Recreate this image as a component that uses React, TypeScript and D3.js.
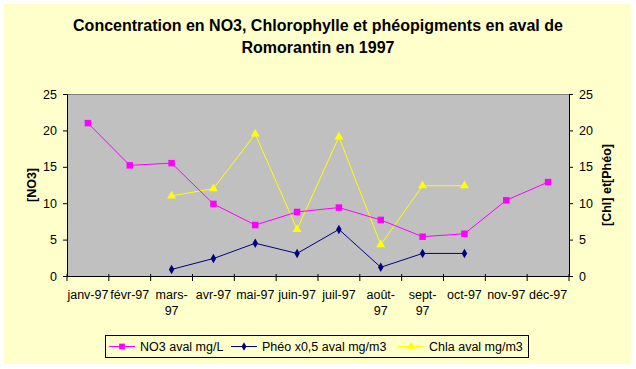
import React, { useEffect, useRef } from 'react';
import * as d3 from 'd3';

const months = ['janv-97', 'févr-97', 'mars-97', 'avr-97', 'mai-97', 'juin-97', 'juil-97', 'août-97', 'sept-97', 'oct-97', 'nov-97', 'déc-97'];
const no3 = [21, 15.2, 15.5, 9.9, 7.0, 8.8, 9.4, 7.7, 5.4, 5.8, 10.4, 12.9];
const pheo = [null, null, 0.9, 2.4, 4.5, 3.1, 6.4, 1.2, 3.1, 3.1, null, null];
const chla = [null, null, 11.0, 12.0, 19.5, 6.4, 19.1, 4.3, 12.4, 12.4, null, null];
const yTicks = [0, 5, 10, 15, 20, 25];

const series = [
  { name: 'NO3 aval mg/L', values: no3, color: '#FF00FF', symbol: d3.symbolSquare, size: 42, lx: 109 },
  { name: 'Phéo x0,5 aval mg/m3', values: pheo, color: '#000080', symbol: d3.symbolDiamond, size: 26, lx: 231 },
  { name: 'Chla aval mg/m3', values: chla, color: '#FFFF00', symbol: d3.symbolTriangle, size: 34, lx: 398 },
];

const W = 636;
const H = 369;
const margin = { top: 94, right: 67, bottom: 93, left: 67 };
const font = 'Arial, "Liberation Sans", sans-serif';
const fs = 12.5;

const App = () => {
  const ref = useRef(null);

  useEffect(() => {
    const svg = d3.select(ref.current);
    svg.selectAll('*').remove();

    const width = W - margin.left - margin.right;
    const height = H - margin.top - margin.bottom;

    svg.append('rect').attr('x', 4).attr('y', 4).attr('width', 627).attr('height', 360).attr('fill', '#FFFFCC');

    // title
    const title = svg.append('text')
      .attr('text-anchor', 'middle')
      .attr('font-family', font)
      .attr('font-size', 16)
      .attr('font-weight', 'bold');
    title.append('tspan').attr('x', W / 2).attr('y', 31).text('Concentration en NO3, Chlorophylle et phéopigments en aval de');
    title.append('tspan').attr('x', W / 2).attr('y', 53).text('Romorantin en 1997');

    const g = svg.append('g').attr('transform', `translate(${margin.left},${margin.top})`);

    const x = d3.scaleBand().domain(months).range([0, width]).padding(0);
    const y = d3.scaleLinear().domain([0, 25]).range([height, 0]);

    g.append('rect').attr('width', width).attr('height', height).attr('fill', '#C0C0C0');
    g.append('line').attr('x1', 0).attr('x2', width).attr('y1', 0.5).attr('y2', 0.5).attr('stroke', '#808080');

    // left axis
    const left = g.append('g').call(d3.axisLeft(y).tickValues(yTicks).tickSize(4).tickPadding(6));
    // right axis
    const right = g.append('g').attr('transform', `translate(${width},0)`)
      .call(d3.axisRight(y).tickValues(yTicks).tickSize(4).tickPadding(6));
    // bottom axis with ticks on category boundaries
    const bottom = g.append('g').attr('transform', `translate(0,${height})`)
      .call(d3.axisBottom(x).tickSize(0).tickPadding(14));
    bottom.selectAll('.tick').each(function () {
      d3.select(this).append('line').attr('x1', -x.bandwidth() / 2).attr('x2', -x.bandwidth() / 2)
        .attr('y1', -2).attr('y2', 5).attr('stroke', '#000');
    });
    bottom.append('line').attr('x1', width).attr('x2', width).attr('y1', -2).attr('y2', 5).attr('stroke', '#000');

    [left, right, bottom].forEach(a => {
      a.attr('font-family', font).attr('font-size', fs);
      a.selectAll('path.domain').attr('stroke', '#000');
      a.selectAll('text').attr('fill', '#000');
    });

    // wrap month labels that are too wide for their slot
    bottom.selectAll('.tick text').each(function (d) {
      const t = d3.select(this);
      if (this.getComputedTextLength() > 39.7 * fs / 12) {
        const parts = d.split('-');
        t.text(null);
        t.append('tspan').attr('x', 0).attr('dy', '0.71em').text(parts[0] + '-');
        t.append('tspan').attr('x', 0).attr('dy', '1.25em').text(parts[1]);
        t.attr('dy', null);
      }
    });

    // axis titles
    svg.append('text').attr('transform', `translate(36,${margin.top + height / 2}) rotate(-90)`)
      .attr('text-anchor', 'middle').attr('font-family', font).attr('font-size', fs).attr('font-weight', 'bold')
      .text('[NO3]');
    svg.append('text').attr('transform', `translate(611,${margin.top + height / 2}) rotate(-90)`)
      .attr('text-anchor', 'middle').attr('font-family', font).attr('font-size', fs).attr('font-weight', 'bold')
      .text('[Chl] et[Phéo]');

    const cx = d => x(d) + x.bandwidth() / 2;

    // draw lines (chla first, beneath)
    series.slice().reverse().forEach(s => {
      const pts = s.values.map((v, i) => ({ m: months[i], v })).filter(p => p.v !== null);
      g.append('path').datum(pts)
        .attr('fill', 'none').attr('stroke', s.color).attr('stroke-width', 1)
        .attr('d', d3.line().x(p => cx(p.m)).y(p => y(p.v)));
      g.selectAll(null).data(pts).enter().append('path')
        .attr('transform', p => `translate(${cx(p.m)},${y(p.v)})`)
        .attr('d', d3.symbol().type(s.symbol).size(s.size))
        .attr('fill', s.color);
    });

    // legend
    const lg = svg.append('g');
    lg.append('rect').attr('x', 105.5).attr('y', 335.5).attr('width', 423).attr('height', 22)
      .attr('fill', '#FFFFCC').attr('stroke', '#000');
    series.forEach(s => {
      lg.append('line').attr('x1', s.lx).attr('x2', s.lx + 26).attr('y1', 346.5).attr('y2', 346.5)
        .attr('stroke', s.color);
      lg.append('path').attr('transform', `translate(${s.lx + 13},346.5)`)
        .attr('d', d3.symbol().type(s.symbol).size(s.size * 0.8)).attr('fill', s.color);
      lg.append('text').attr('x', s.lx + 31).attr('y', 351).attr('font-family', font).attr('font-size', fs)
        .text(s.name);
    });
  }, []);

  return (
    <svg ref={ref} width={W} height={H} style={{ position: 'absolute', left: 0, top: 0, background: '#fff' }}></svg>
  );
};

export default App;
